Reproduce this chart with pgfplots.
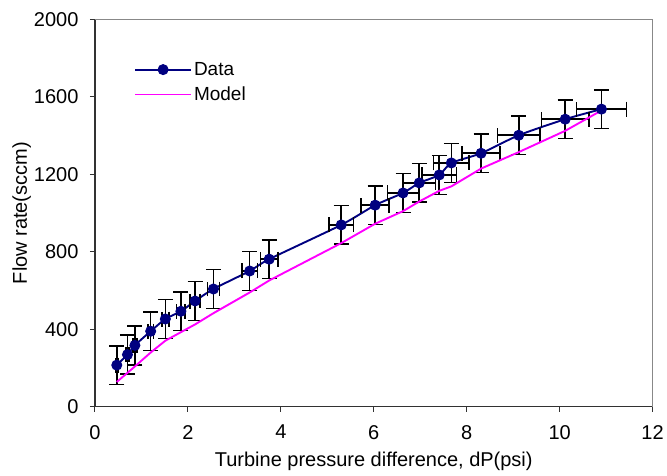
\documentclass[border=0pt]{standalone}
\usepackage{pgfplots}
\pgfplotsset{compat=1.18}
\usepackage{pgfplotstable}
\usepackage{fontspec}
\setmainfont{Liberation Sans}
\definecolor{navyd}{RGB}{0,0,128}
\definecolor{magm}{RGB}{255,0,255}
\definecolor{axdark}{RGB}{50,50,50}
\definecolor{axgray}{RGB}{136,136,136}

\pgfplotstableread{
x y ex
0.47 215 0.024
0.70 269 0.035
0.86 317 0.043
1.20 390 0.06
1.515 453 0.076
1.85 493 0.093
2.155 546 0.108
2.55 608 0.128
3.33 701 0.167
3.75 762 0.188
5.30 939 0.265
6.03 1041 0.30
6.63 1104 0.33
6.98 1156 0.35
7.41 1197 0.37
7.67 1259 0.38
8.31 1309 0.41
9.12 1402 0.46
10.12 1485 0.51
10.9 1537 0.54
}\datatable

\pgfplotstableread{
x y
0.47 128
0.70 175
0.86 208
1.20 280
1.515 341
1.85 385
2.155 425
2.55 483
3.33 590
3.75 652
5.30 845
6.03 945
6.63 1010
6.98 1060
7.41 1115
7.67 1138
8.31 1230
9.12 1315
10.12 1425
10.9 1530
}\modeltable

\begin{document}
\begin{tikzpicture}
\path (-95pt,-69pt) rectangle (572pt,407pt);
\begin{axis}[
  at={(0pt,0pt)}, anchor=south west,
  scale only axis,
  width=558pt, height=387.5pt,
  xmin=0, xmax=12, ymin=0, ymax=2000,
  xtick={0,2,...,12},
  ytick={0,400,...,2000},
  axis x line*=bottom, axis y line*=left,
  axis line style={-, color=axdark, line width=1.2pt},
  tick style={color=axdark, line width=1pt},
  tick align=outside,
  major tick length=5pt,
  /pgf/number format/assume math mode=true,
  /pgf/number format/1000 sep={},
  tick label style={font=\fontsize{20}{24}\selectfont, text=black},
  xticklabel style={yshift=-10pt},
  yticklabel style={xshift=-8pt},
  xlabel={Turbine pressure difference, dP(psi)},
  ylabel={Flow rate(sccm)},
  label style={font=\fontsize{20}{24}\selectfont},
  xlabel style={at={(axis description cs:0.5,0)}, anchor=base, yshift=-60pt},
  ylabel style={at={(axis description cs:0,0.5)}, anchor=base, rotate=0, yshift=68pt},
  legend style={draw=none, fill=none, at={(0.07,0.895)}, anchor=north west,
    font=\fontsize{19}{22}\selectfont, row sep=6pt, inner sep=0pt,
    /tikz/every even column/.append style={column sep=6pt}},
  legend cell align=left,
  legend image code/.code={
    \draw[mark repeat=2, mark phase=2, #1] plot coordinates {(0pt,0pt) (28pt,0pt) (56pt,0pt)};
  },
  clip=false,
]
\addplot[color=navyd, line width=1.9pt, smooth, tension=0.4,
  mark=*, mark size=5pt, mark options={fill=navyd, draw=navyd, line width=1pt},
  error bars/.cd,
    x dir=both, x explicit,
    y dir=both, y fixed=100,
    error bar style={black, line width=1.6pt, solid},
    error mark options={rotate=90, black, line width=1.6pt, mark size=7.5pt}
  ] table[x=x, y=y, x error=ex] {\datatable};
\addlegendentry{Data}
\addplot[color=magm, line width=1.9pt] table[x=x, y=y] {\modeltable};
\addlegendentry{Model}
\draw[axgray, line width=1.3pt] (rel axis cs:0,1) -- (rel axis cs:1,1) -- (rel axis cs:1,0);
\end{axis}
\end{tikzpicture}
\end{document}
